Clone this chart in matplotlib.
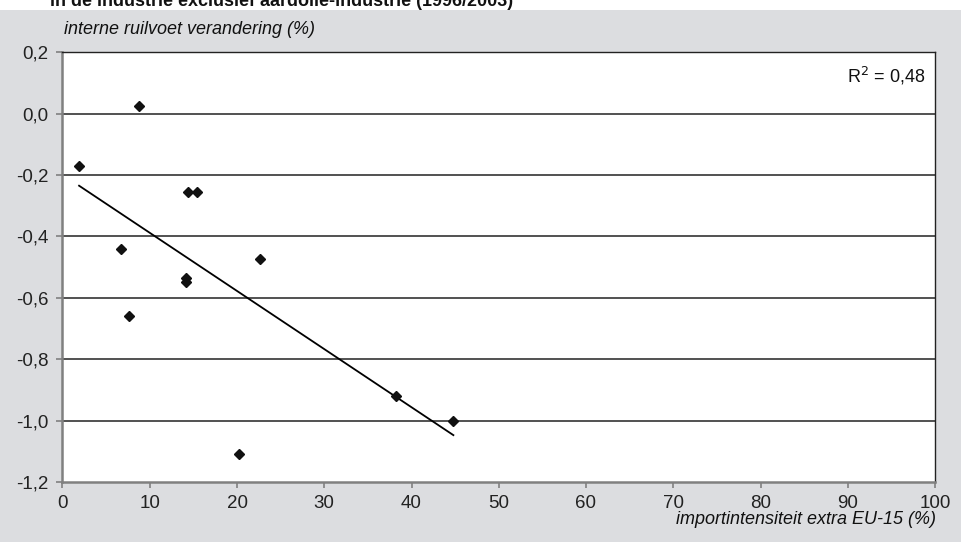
import numpy as np
import matplotlib
matplotlib.use('Agg')
import matplotlib.pyplot as plt
from matplotlib.patches import Rectangle

# importintensiteit extra EU-15 (%) per bedrijfstak
import_intensity = [1.9, 8.8, 14.4, 15.4, 6.7, 22.6, 14.2, 14.2, 7.6, 38.2, 44.8, 20.2]
# interne ruilvoet verandering (%)
terms_change = [-0.17, 0.026, -0.256, -0.256, -0.44, -0.472, -0.535, -0.55, -0.66, -0.92, -1.0, -1.11]

x_ticks = [0, 10, 20, 30, 40, 50, 60, 70, 80, 90, 100]
y_ticks = [-1.2, -1.0, -0.8, -0.6, -0.4, -0.2, 0.0, 0.2]

title = "in de industrie exclusief aardolie-industrie (1996/2003)"
y_title = "interne ruilvoet verandering (%)"
x_title = "importintensiteit extra EU-15 (%)"

plt.rcParams['font.family'] = ['Liberation Sans', 'DejaVu Sans']

bg = '#dcdde0'
fig = plt.figure(figsize=(9.61, 5.42), dpi=100, facecolor=bg)
# white strip on top with the (cut off) heading
fig.patches.append(Rectangle((0, 1 - 9.5 / 542), 1, 9.5 / 542, transform=fig.transFigure,
                             facecolor='white', edgecolor='none', zorder=0))
fig.text(50 / 961, 1 - 6 / 542, title, fontsize=13, fontweight='bold',
         va='baseline', ha='left', color='#111111')

ax = fig.add_axes([62.5 / 961, 60 / 542, (935 - 62.5) / 961, (482 - 52.3) / 542])
ax.set_facecolor('white')

x = np.array(import_intensity)
y = np.array(terms_change)

# linear trendline with R^2
slope, intercept = np.polyfit(x, y, 1)
fit = slope * x + intercept
r2 = 1 - np.sum((y - fit) ** 2) / np.sum((y - y.mean()) ** 2)
xs = np.array([x.min(), x.max()])
ax.plot(xs, slope * xs + intercept, color='black', lw=1.3, zorder=3)

ax.plot(x, y, linestyle='none', marker='D', markersize=5.6,
        color='#111111', zorder=4)

ax.set_xlim(0, 100)
ax.set_ylim(-1.2, 0.2)
ax.set_xticks(x_ticks)
ax.set_yticks(y_ticks)
ax.set_xticklabels([str(t) for t in x_ticks])
ax.set_yticklabels([f"{t:.1f}".replace('.', ',') for t in y_ticks])
ax.tick_params(axis='both', labelsize=13.5, colors='#222222', length=4, width=1.2)
ax.tick_params(axis='both', color='#808080')
ax.tick_params(axis='x', pad=5)
ax.tick_params(axis='y', pad=6)

for v in y_ticks[1:-1]:
    ax.axhline(v, color='#333333', lw=1.2, zorder=1)

for s in ['left', 'bottom']:
    ax.spines[s].set_color('#808080')
    ax.spines[s].set_linewidth(1.8)
for s in ['top', 'right']:
    ax.spines[s].set_color('#222222')
    ax.spines[s].set_linewidth(1.0)

ax.text(0.9885, 0.945, "R$^2$ = " + f"{r2:.2f}".replace('.', ','), transform=ax.transAxes,
        ha='right', va='center', fontsize=13, color='#111111')

fig.text(64 / 961, 1 - 30 / 542, y_title, fontsize=13, style='italic',
         ha='left', va='center', color='#111111')
fig.text(936 / 961, 1 - 520 / 542, x_title, fontsize=13, style='italic',
         ha='right', va='center', color='#111111')

fig.savefig('out.png', dpi=100, facecolor=bg)
